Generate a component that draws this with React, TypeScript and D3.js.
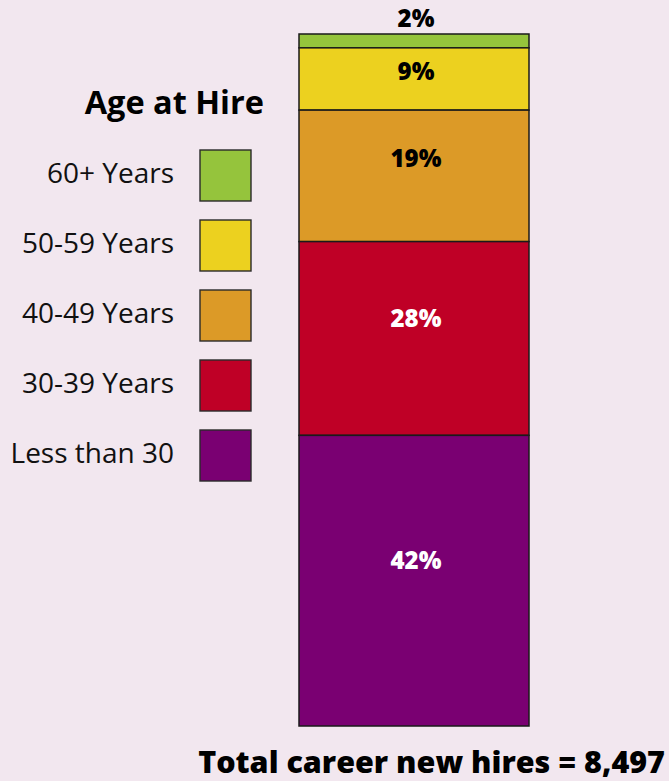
import React from "react";
import * as d3 from "d3";

const categories = ["60+ Years", "50-59 Years", "40-49 Years", "30-39 Years", "Less than 30"];
const values = [2, 9, 19, 28, 42];
const colors = ["#95c43c", "#ecd11f", "#dc9a27", "#bf0026", "#7a0072"];
const labelColors = ["#000", "#000", "#000", "#fff", "#fff"];
const legendTitle = "Age at Hire";
const totalLabel = "Total career new hires = 8,497";

const W = 669, H = 781;
const FONT = "'Open Sans', Lato, sans-serif";

export default function App() {
  const total = d3.sum(values);
  const y = d3.scaleLinear().domain([0, total]).range([34, 726]);
  const barX0 = 299, barX1 = 529;
  let acc = 0;
  const segs = categories.map((c, i) => {
    const s = { c, v: values[i], y0: y(acc), y1: y(acc + values[i]), color: colors[i], lc: labelColors[i] };
    acc += values[i];
    return s;
  });
  const legendY = d3.scaleBand().domain(categories).range([150, 481]).paddingInner(19 / 70).paddingOuter(0);
  return (
    <svg width={W} height={H} style={{ position: "absolute", left: 0, top: 0, background: "#f2e7ef" }} fontFamily={FONT}>
      <rect x={0} y={0} width={W} height={H} fill="#f2e7ef" />
      {segs.map((s) => (
        <rect key={s.c} x={barX0} y={s.y0} width={barX1 - barX0} height={s.y1 - s.y0} fill={s.color} stroke="#1a1a1a" strokeWidth={1.5} />
      ))}
      {segs.map((s, i) => {
        const h = s.y1 - s.y0;
        const cy = i === 0 ? s.y0 - 16 : (s.y0 + s.y1) / 2 - Math.min(20, h * 0.13);
        return (
          <text key={"l" + s.c} x={(barX0 + barX1) / 2 + 2} y={cy} dy="0.36em" textAnchor="middle" fontWeight={800} fontSize={24} fill={s.lc}>
            {s.v}%
          </text>
        );
      })}
      <text x={264} y={114} textAnchor="end" fontWeight={700} fontSize={32.5} fill="#000">{legendTitle}</text>
      {categories.map((c, i) => {
        const yy = legendY(c)!;
        const bw = legendY.bandwidth();
        return (
          <g key={"lg" + c}>
            <rect x={200} y={yy} width={51} height={bw} fill={colors[i]} stroke="#2a2a2a" strokeWidth={1.4} />
            <text x={174} y={yy + bw / 2 - 3} dy="0.36em" textAnchor="end" fontSize={28} fill="#111">{c}</text>
          </g>
        );
      })}
      <text x={665} y={773} textAnchor="end" fontWeight={800} fontSize={30.5} fill="#000">{totalLabel}</text>
    </svg>
  );
}
